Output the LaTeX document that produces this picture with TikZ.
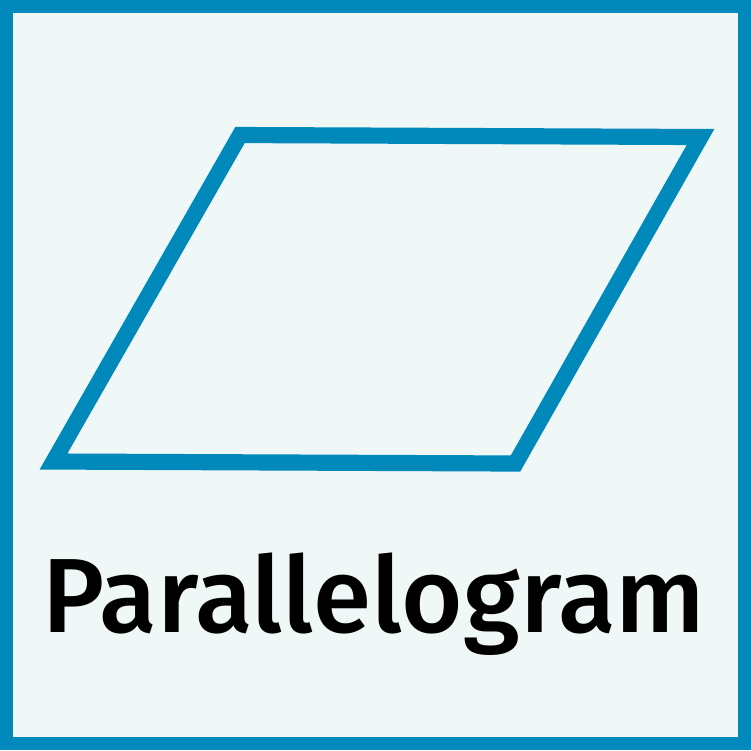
\documentclass[tikz,border=0pt]{standalone}
\usepackage{fontspec}
\setmainfont{Fira Sans}[UprightFont=* Medium]
\definecolor{frameblue}{RGB}{0,137,186}
\definecolor{paleback}{RGB}{239,247,247}
\tikzset{
  outline/.style={draw=frameblue,line width=4.6pt,line join=miter},
  label/.style={font=\fontsize{30}{36}\selectfont,text=black,inner sep=0pt}
}
\begin{document}
\begin{tikzpicture}[x=0.01cm,y=-0.01cm]
    \useasboundingbox (0,0) rectangle (751,750);
    %--- frame ---
    \fill[paleback] (0,0) rectangle (751,750);
    \draw[draw=frameblue,line width=3.7pt] (6.5,6.5) rectangle (744.5,743.5);
    %--- parallelogram ---
    \coordinate (tl) at (240,135);
    \coordinate (tr) at (700.5,137);
    \coordinate (br) at (515.5,463.5);
    \coordinate (bl) at (53.5,461.5);
    \draw[outline] (tl) -- (tr) -- (br) -- (bl) -- cycle;
    %--- caption ---
    \node[label,anchor=base] (name) at (374,632) {Parallelogram};
  \end{tikzpicture}
\end{document}
